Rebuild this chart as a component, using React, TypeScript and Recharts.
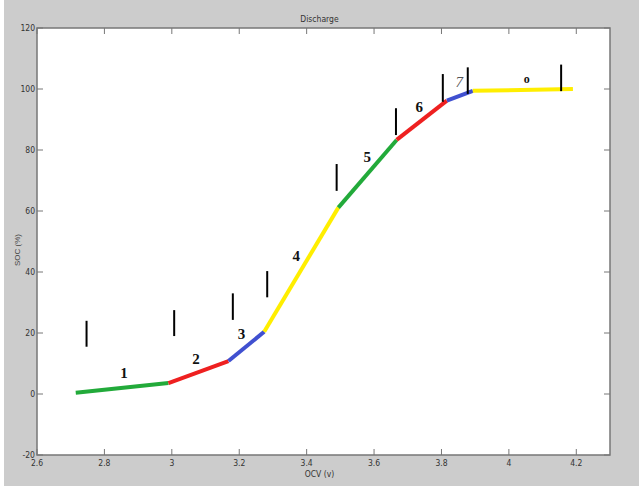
import { ComposedChart, Line, Scatter, XAxis, YAxis, ReferenceArea } from "recharts";

// breakpoints of the piecewise discharge curve
const VOLT = [2.715, 2.99, 3.168, 3.274, 3.494, 3.667, 3.816, 3.893, 4.19];
const SOC = [0.4, 3.6, 10.8, 20.4, 61.1, 83.3, 96.2, 99.4, 100];
const SEG_COLORS = ["#22aa3a", "#ee2020", "#4050d0", "#ffee00", "#22aa3a", "#ee2020", "#4050d0", "#ffee00"];

// short black division markers
const MARK_V = [2.747, 3.007, 3.181, 3.283, 3.489, 3.665, 3.804, 3.878, 4.155];
const MARK_LO = [15.5, 19, 24.3, 31.7, 66.6, 84.9, 95.8, 98.4, 99.3];
const MARK_HI = [24, 27.5, 33, 40.3, 75.4, 93.7, 104.9, 107.1, 108];

// segment numbers
const LABEL_TEXT = ["1", "2", "3", "4", "5", "6", "7", "o"];
const LABEL_V = [2.858, 3.072, 3.207, 3.369, 3.58, 3.734, 3.853, 4.053];
const LABEL_SOC = [7.0, 11.4, 19.7, 45.2, 77.8, 94.2, 102.2, 103.5];

const X_TICKS = [2.6, 2.8, 3, 3.2, 3.4, 3.6, 3.8, 4, 4.2];
const Y_TICKS = [-20, 0, 20, 40, 60, 80, 100, 120];

const W = 639;
const H = 486;
const PLOT = { left: 37, right: 610, top: 28, bottom: 455 };
const TICK_LEN = 6;
const AXIS_GRAY = "#777";
const TICK_FONT = "'DejaVu Sans Condensed', 'DejaVu Sans', sans-serif";

const segments = SEG_COLORS.map((color, i) => ({
  color,
  data: [
    { v: VOLT[i], soc: SOC[i] },
    { v: VOLT[i + 1], soc: SOC[i + 1] },
  ],
}));

const markers = MARK_V.map((v, i) => [
  { v, soc: MARK_LO[i] },
  { v, soc: MARK_HI[i] },
]);

const labels = LABEL_TEXT.map((t, i) => ({ v: LABEL_V[i], soc: LABEL_SOC[i], t }));

function XTick(props: any) {
  const { x, payload } = props;
  return (
    <g>
      <line x1={x} x2={x} y1={PLOT.bottom} y2={PLOT.bottom - TICK_LEN} stroke={AXIS_GRAY} />
      <line x1={x} x2={x} y1={PLOT.top} y2={PLOT.top + TICK_LEN} stroke={AXIS_GRAY} />
      <text x={x} y={PLOT.bottom + 11} textAnchor="middle" fontSize={8.5} fill="#333" fontFamily={TICK_FONT}>
        {payload.value}
      </text>
    </g>
  );
}

function YTick(props: any) {
  const { y, payload } = props;
  return (
    <g>
      <line x1={PLOT.left} x2={PLOT.left + TICK_LEN} y1={y} y2={y} stroke={AXIS_GRAY} />
      <line x1={PLOT.right} x2={PLOT.right - TICK_LEN} y1={y} y2={y} stroke={AXIS_GRAY} />
      <text x={PLOT.left - 2} y={y + 3} textAnchor="end" fontSize={8.5} fill="#333" fontFamily={TICK_FONT}>
        {payload.value}
      </text>
    </g>
  );
}

function NumberLabel(props: any) {
  const { cx, cy, payload } = props;
  const seven = payload.t === "7";
  return (
    <text
      x={cx}
      y={cy + 5}
      textAnchor="middle"
      fontSize={payload.t === "o" ? 12 : 15}
      fontWeight={seven ? "normal" : "bold"}
      fontStyle={seven ? "italic" : "normal"}
      fontFamily="'Liberation Serif', serif"
      fill={seven ? "#555" : "#111"}
    >
      {payload.t}
    </text>
  );
}

export default function App() {
  return (
    <div style={{ position: "absolute", left: 0, top: 0, width: W, height: H, background: "#fff" }}>
      <div style={{ position: "absolute", left: 4, top: 0, width: W - 4, height: H, background: "#cccccc" }} />
      <div style={{ position: "absolute", left: 0, top: 0 }}>
        <ComposedChart
          width={W}
          height={H}
          margin={{ top: PLOT.top, right: W - PLOT.right, left: PLOT.left - 30, bottom: H - PLOT.bottom - 20 }}
        >
          <XAxis
            dataKey="v"
            type="number"
            domain={[2.6, 4.3]}
            ticks={X_TICKS}
            allowDataOverflow
            height={20}
            tickLine={false}
            axisLine={false}
            tick={<XTick />}
          />
          <YAxis
            dataKey="soc"
            type="number"
            domain={[-20, 120]}
            ticks={Y_TICKS}
            allowDataOverflow
            width={30}
            tickLine={false}
            axisLine={false}
            tick={<YTick />}
          />
          <ReferenceArea x1={2.6} x2={4.3} y1={-20} y2={120} fill="#fff" fillOpacity={1} stroke={AXIS_GRAY} strokeWidth={1.5} />
          {segments.map((s, i) => (
            <Line
              key={`seg-${i}`}
              data={s.data}
              dataKey="soc"
              stroke={s.color}
              strokeWidth={4}
              dot={false}
              activeDot={false}
              isAnimationActive={false}
            />
          ))}
          {markers.map((m, i) => (
            <Line
              key={`mark-${i}`}
              data={m}
              dataKey="soc"
              stroke="#000"
              strokeWidth={2}
              dot={false}
              activeDot={false}
              isAnimationActive={false}
            />
          ))}
          <Scatter data={labels} dataKey="soc" shape={<NumberLabel />} isAnimationActive={false} />
        </ComposedChart>
      </div>
      <div
        style={{
          position: "absolute",
          left: 0,
          width: W,
          top: 14,
          textAlign: "center",
          fontFamily: TICK_FONT,
          fontSize: 8.5,
          color: "#333",
        }}
      >
        Discharge
      </div>
      <div
        style={{
          position: "absolute",
          left: 0,
          width: W,
          top: 469,
          textAlign: "center",
          fontFamily: TICK_FONT,
          fontSize: 8.5,
          color: "#333",
        }}
      >
        OCV (v)
      </div>
      <div
        style={{
          position: "absolute",
          left: 17,
          top: 250,
          transform: "translate(-50%, -50%) rotate(-90deg)",
          fontFamily: "'Liberation Sans', sans-serif",
          fontSize: 8,
          color: "#444",
          whiteSpace: "nowrap",
        }}
      >
        SOC (%)
      </div>
    </div>
  );
}
